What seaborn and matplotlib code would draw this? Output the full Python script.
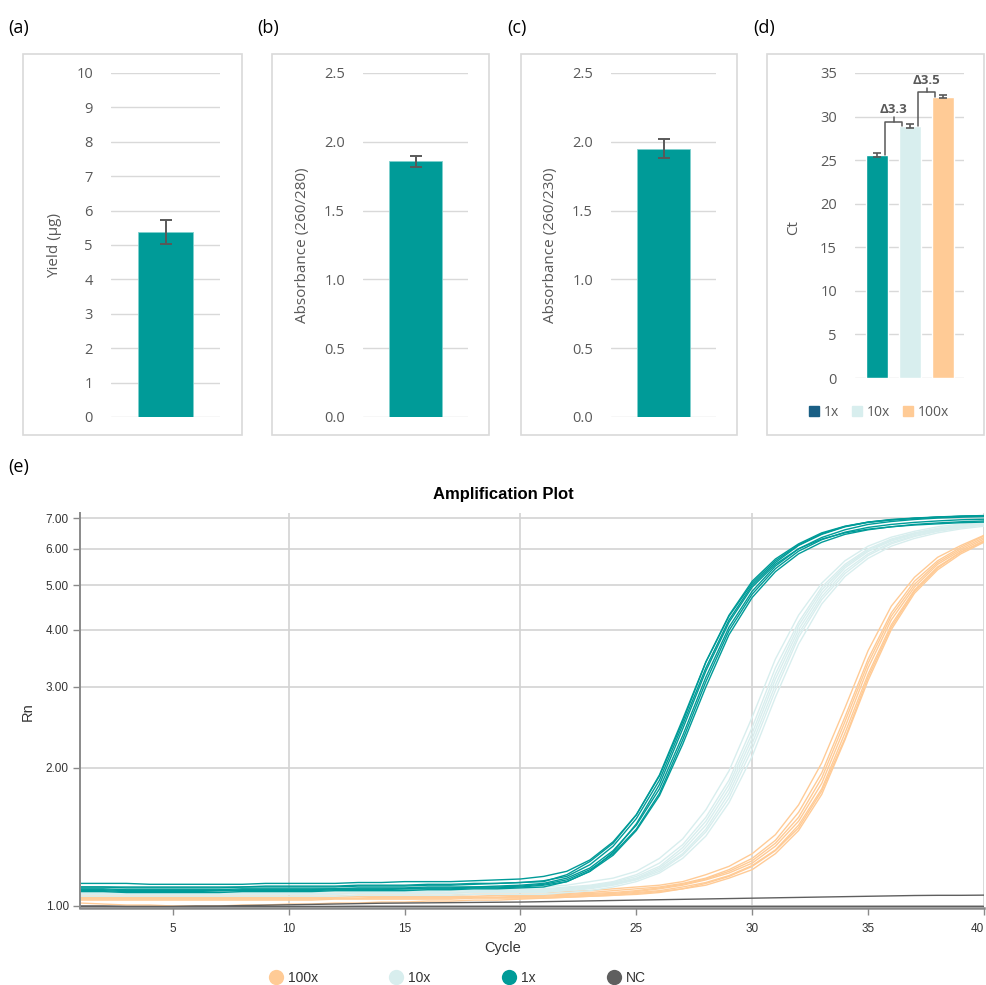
import numpy as np
import pandas as pd
import matplotlib
matplotlib.use('Agg')
import matplotlib.pyplot as plt
import seaborn as sns
from matplotlib.patches import Rectangle, Patch
from matplotlib.lines import Line2D
from matplotlib.ticker import FixedLocator, NullLocator

sns.set_theme(style='white')
plt.rcParams['font.family'] = ['Open Sans', 'DejaVu Sans']

# --- bar panels (a)-(d) ---
yield_mean, yield_err = 5.37, 0.35
a280_mean, a280_err = 1.86, 0.04
a230_mean, a230_err = 1.95, 0.07
dilutions = ['1x', '10x', '100x']
ct_mean = [25.6, 28.9, 32.3]
ct_err = [0.2, 0.2, 0.2]
delta_labels = ['\u03943.3', '\u03943.5']

# --- amplification plot (e) ---
cycles = list(range(1, 41))
rn_1x_a = [1.12, 1.12, 1.12, 1.115, 1.115, 1.115, 1.115, 1.115, 1.12, 1.12, 1.12, 1.12, 1.125, 1.125, 1.13, 1.13, 1.13, 1.135, 1.14, 1.145,
           1.16, 1.19, 1.26, 1.38, 1.58, 1.92, 2.52, 3.40, 4.30, 5.10, 5.70, 6.15, 6.50, 6.72, 6.86, 6.94, 6.99, 7.03, 7.06, 7.08]
rn_1x_b = [1.10, 1.10, 1.095, 1.095, 1.095, 1.095, 1.095, 1.10, 1.10, 1.10, 1.10, 1.10, 1.105, 1.105, 1.105, 1.11, 1.11, 1.115, 1.12, 1.125,
           1.135, 1.16, 1.23, 1.35, 1.55, 1.88, 2.48, 3.30, 4.20, 5.00, 5.60, 6.10, 6.45, 6.70, 6.85, 6.93, 6.99, 7.03, 7.06, 7.08]
rn_1x_c = [1.09, 1.09, 1.085, 1.085, 1.085, 1.085, 1.085, 1.09, 1.09, 1.09, 1.09, 1.09, 1.095, 1.095, 1.095, 1.10, 1.10, 1.10, 1.105, 1.11,
           1.12, 1.15, 1.21, 1.32, 1.50, 1.80, 2.35, 3.15, 4.05, 4.85, 5.50, 6.00, 6.35, 6.60, 6.78, 6.88, 6.95, 7.00, 7.03, 7.05]
rn_1x_d = [1.08, 1.08, 1.075, 1.075, 1.075, 1.075, 1.08, 1.08, 1.08, 1.08, 1.08, 1.085, 1.085, 1.085, 1.09, 1.09, 1.09, 1.095, 1.095, 1.10,
           1.11, 1.13, 1.19, 1.29, 1.46, 1.74, 2.25, 3.00, 3.90, 4.70, 5.35, 5.85, 6.20, 6.45, 6.60, 6.70, 6.78, 6.83, 6.87, 6.90]
rn_1x_e = [1.075, 1.075, 1.07, 1.07, 1.07, 1.07, 1.07, 1.075, 1.075, 1.075, 1.075, 1.08, 1.08, 1.08, 1.08, 1.085, 1.085, 1.09, 1.09, 1.095,
           1.10, 1.13, 1.19, 1.31, 1.51, 1.84, 2.43, 3.25, 4.15, 4.95, 5.55, 6.00, 6.30, 6.50, 6.62, 6.70, 6.76, 6.80, 6.84, 6.86]
rn_1x_f = [1.10, 1.10, 1.10, 1.10, 1.10, 1.10, 1.10, 1.10, 1.105, 1.105, 1.105, 1.105, 1.11, 1.11, 1.11, 1.115, 1.115, 1.12, 1.12, 1.125,
           1.13, 1.17, 1.25, 1.37, 1.58, 1.93, 2.55, 3.40, 4.28, 5.05, 5.65, 6.12, 6.47, 6.71, 6.86, 6.95, 7.00, 7.04, 7.07, 7.09]
rn_1x_g = [1.085, 1.085, 1.08, 1.08, 1.08, 1.08, 1.08, 1.085, 1.085, 1.085, 1.085, 1.09, 1.09, 1.09, 1.09, 1.095, 1.095, 1.10, 1.10, 1.105,
           1.115, 1.14, 1.20, 1.30, 1.47, 1.76, 2.30, 3.08, 3.98, 4.78, 5.43, 5.93, 6.28, 6.52, 6.68, 6.78, 6.85, 6.90, 6.94, 6.96]

rn_10x_a = [1.08, 1.08, 1.08, 1.08, 1.08, 1.08, 1.08, 1.08, 1.08, 1.08, 1.08, 1.08, 1.08, 1.085, 1.085, 1.085, 1.085, 1.09, 1.09, 1.09,
            1.09, 1.10, 1.11, 1.13, 1.17, 1.24, 1.36, 1.56, 1.88, 2.45, 3.30, 4.15, 4.95, 5.55, 6.00, 6.30, 6.50, 6.65, 6.76, 6.85]
rn_10x_b = [1.07, 1.07, 1.07, 1.07, 1.07, 1.07, 1.07, 1.07, 1.07, 1.07, 1.07, 1.075, 1.075, 1.075, 1.075, 1.075, 1.08, 1.08, 1.08, 1.08,
            1.08, 1.09, 1.10, 1.12, 1.15, 1.21, 1.32, 1.50, 1.80, 2.32, 3.12, 4.00, 4.80, 5.45, 5.92, 6.24, 6.45, 6.60, 6.72, 6.80]
rn_10x_c = [1.06, 1.06, 1.06, 1.06, 1.06, 1.06, 1.06, 1.06, 1.06, 1.06, 1.06, 1.06, 1.065, 1.065, 1.065, 1.065, 1.065, 1.07, 1.07, 1.07,
            1.07, 1.08, 1.09, 1.11, 1.14, 1.19, 1.29, 1.45, 1.72, 2.20, 2.95, 3.85, 4.65, 5.30, 5.80, 6.15, 6.38, 6.55, 6.67, 6.76]
rn_10x_d = [1.09, 1.09, 1.09, 1.09, 1.09, 1.09, 1.09, 1.09, 1.09, 1.09, 1.09, 1.09, 1.095, 1.095, 1.095, 1.095, 1.095, 1.10, 1.10, 1.10,
            1.10, 1.11, 1.13, 1.15, 1.19, 1.27, 1.40, 1.62, 1.97, 2.58, 3.45, 4.30, 5.05, 5.65, 6.08, 6.36, 6.55, 6.70, 6.80, 6.88]
rn_10x_e = [1.05, 1.05, 1.05, 1.05, 1.05, 1.05, 1.05, 1.05, 1.05, 1.05, 1.05, 1.05, 1.055, 1.055, 1.055, 1.055, 1.055, 1.06, 1.06, 1.06,
            1.06, 1.07, 1.08, 1.10, 1.13, 1.18, 1.27, 1.42, 1.68, 2.12, 2.85, 3.72, 4.55, 5.22, 5.72, 6.08, 6.32, 6.50, 6.63, 6.72]
rn_10x_f = [1.075, 1.075, 1.075, 1.075, 1.075, 1.075, 1.075, 1.075, 1.075, 1.075, 1.075, 1.075, 1.08, 1.08, 1.08, 1.08, 1.08, 1.085, 1.085, 1.085,
            1.085, 1.095, 1.105, 1.125, 1.16, 1.22, 1.34, 1.53, 1.84, 2.38, 3.20, 4.08, 4.88, 5.50, 5.96, 6.27, 6.48, 6.62, 6.74, 6.82]
rn_10x_g = [1.065, 1.065, 1.065, 1.065, 1.065, 1.065, 1.065, 1.065, 1.065, 1.065, 1.065, 1.065, 1.07, 1.07, 1.07, 1.07, 1.07, 1.075, 1.075, 1.075,
            1.075, 1.085, 1.095, 1.115, 1.145, 1.20, 1.30, 1.47, 1.76, 2.26, 3.03, 3.92, 4.72, 5.37, 5.85, 6.19, 6.41, 6.57, 6.69, 6.78]

rn_100x_a = [1.05, 1.05, 1.05, 1.05, 1.05, 1.05, 1.05, 1.05, 1.05, 1.05, 1.05, 1.05, 1.055, 1.055, 1.055, 1.055, 1.055, 1.06, 1.06, 1.06,
             1.06, 1.065, 1.07, 1.08, 1.09, 1.10, 1.12, 1.15, 1.20, 1.27, 1.39, 1.60, 1.95, 2.58, 3.45, 4.35, 5.10, 5.65, 6.05, 6.40]
rn_100x_b = [1.04, 1.04, 1.04, 1.04, 1.04, 1.04, 1.04, 1.04, 1.04, 1.04, 1.04, 1.04, 1.04, 1.045, 1.045, 1.045, 1.045, 1.045, 1.045, 1.05,
             1.05, 1.055, 1.06, 1.065, 1.075, 1.09, 1.11, 1.14, 1.18, 1.24, 1.35, 1.53, 1.85, 2.45, 3.30, 4.20, 4.95, 5.55, 5.95, 6.30]
rn_100x_c = [1.03, 1.03, 1.03, 1.03, 1.03, 1.03, 1.03, 1.03, 1.03, 1.03, 1.03, 1.035, 1.035, 1.035, 1.035, 1.035, 1.035, 1.04, 1.04, 1.04,
             1.04, 1.045, 1.05, 1.055, 1.06, 1.07, 1.09, 1.11, 1.15, 1.20, 1.30, 1.46, 1.75, 2.30, 3.10, 4.00, 4.80, 5.40, 5.85, 6.20]
rn_100x_d = [1.06, 1.06, 1.06, 1.06, 1.06, 1.06, 1.06, 1.06, 1.06, 1.06, 1.06, 1.065, 1.065, 1.065, 1.065, 1.065, 1.07, 1.07, 1.07, 1.07,
             1.07, 1.075, 1.08, 1.09, 1.10, 1.11, 1.13, 1.17, 1.22, 1.30, 1.43, 1.66, 2.05, 2.70, 3.60, 4.50, 5.20, 5.75, 6.10, 6.42]
rn_100x_e = [1.015, 1.01, 1.005, 1.005, 1.00, 1.00, 1.00, 1.005, 1.005, 1.01, 1.01, 1.015, 1.015, 1.02, 1.02, 1.025, 1.025, 1.03, 1.03, 1.035,
             1.04, 1.045, 1.05, 1.055, 1.065, 1.075, 1.09, 1.12, 1.16, 1.22, 1.32, 1.48, 1.78, 2.32, 3.15, 4.05, 4.85, 5.45, 5.90, 6.22]
rn_100x_f = [1.045, 1.045, 1.045, 1.045, 1.045, 1.045, 1.045, 1.045, 1.045, 1.045, 1.045, 1.045, 1.05, 1.05, 1.05, 1.05, 1.05, 1.05, 1.055, 1.055,
             1.055, 1.06, 1.065, 1.07, 1.08, 1.095, 1.115, 1.145, 1.19, 1.255, 1.37, 1.56, 1.90, 2.52, 3.38, 4.28, 5.02, 5.60, 6.00, 6.35]
rn_100x_g = [1.035, 1.035, 1.035, 1.035, 1.035, 1.035, 1.035, 1.035, 1.035, 1.035, 1.035, 1.04, 1.04, 1.04, 1.04, 1.04, 1.04, 1.045, 1.045, 1.045,
             1.045, 1.05, 1.055, 1.06, 1.07, 1.08, 1.10, 1.125, 1.165, 1.225, 1.325, 1.50, 1.80, 2.38, 3.20, 4.10, 4.88, 5.48, 5.90, 6.25]

rn_nc_a = [1.00, 1.00, 0.998, 0.998, 0.998, 1.00, 1.00, 1.002, 1.004, 1.006, 1.008, 1.01, 1.012, 1.014, 1.015, 1.016, 1.017, 1.018, 1.019, 1.02,
           1.022, 1.024, 1.026, 1.028, 1.03, 1.032, 1.034, 1.036, 1.038, 1.04, 1.042, 1.044, 1.046, 1.048, 1.05, 1.052, 1.054, 1.055, 1.055, 1.056]
rn_nc_b = [0.997, 0.997, 0.996, 0.996, 0.996, 0.996, 0.997, 0.997, 0.997, 0.997, 0.997, 0.997, 0.998, 0.998, 0.998, 0.998, 0.998, 0.998, 0.998, 0.998,
           0.998, 0.998, 0.998, 0.998, 0.998, 0.998, 0.998, 0.998, 0.998, 0.998, 0.998, 0.998, 0.998, 0.998, 0.998, 0.998, 0.998, 0.998, 0.998, 0.998]

groups = ['100x', '10x', '1x', 'NC']
replicates = {
    '100x': [rn_100x_a, rn_100x_b, rn_100x_c, rn_100x_d, rn_100x_e, rn_100x_f, rn_100x_g],
    '10x': [rn_10x_a, rn_10x_b, rn_10x_c, rn_10x_d, rn_10x_e, rn_10x_f, rn_10x_g],
    '1x': [rn_1x_a, rn_1x_b, rn_1x_c, rn_1x_d, rn_1x_e, rn_1x_f, rn_1x_g],
    'NC': [rn_nc_a, rn_nc_b],
}

TEAL = '#009B98'
CYAN = '#D8EEEE'
PEACH = '#FFCB96'
NAVY = '#1A5F85'
NCGRAY = '#5F5F5F'
TXT = '#595959'
GRID = '#D9D9D9'
PAL = {'1x': TEAL, '10x': CYAN, '100x': PEACH, 'NC': NCGRAY}

W, H = 986, 985
fig = plt.figure(figsize=(W / 100, H / 100), dpi=100)
fig.patch.set_facecolor('white')


def fig_rect(x0, y0, x1, y1):
    # pixel box (top-left origin) -> figure fraction
    return [x0 / W, 1 - y1 / H, (x1 - x0) / W, (y1 - y0) / H]


def panel_box(x0, x1, tag, tag_x):
    fig.add_artist(Rectangle((x0 / W, 1 - 435 / H), (x1 - x0) / W, (435 - 54) / H,
                             transform=fig.transFigure, fill=False, ec=GRID, lw=1.2))
    fig.text(tag_x / W, 1 - 28 / H, tag, fontsize=13, color='black', va='center', ha='left')


def style_bar_axis(ax, ticks, fmt, ylabel, lab_x, lab_y):
    ax.set_yticks(ticks)
    ax.set_yticklabels([fmt.format(t) for t in ticks])
    ax.tick_params(axis='y', length=0, pad=13, labelsize=10.5, labelcolor=TXT)
    ax.set_xticks([])
    ax.set_xlabel('')
    ax.set_ylabel(ylabel, fontsize=11, color=TXT)
    ax.yaxis.set_label_coords(lab_x, lab_y)
    for s in ax.spines.values():
        s.set_visible(False)
    ax.yaxis.grid(True, color=GRID, lw=1)
    ax.set_axisbelow(True)
    ax.set_facecolor('none')


def single_bar(rect, value, err, ylim, ticks, fmt, ylabel, lab_x):
    ax = fig.add_axes(rect)
    df = pd.DataFrame({'sample': ['s'], 'value': [value]})
    sns.barplot(data=df, x='sample', y='value', color=TEAL, saturation=1, width=0.505,
                errorbar=None, ax=ax, edgecolor='#7FD0CE', linewidth=0.6)
    ax.errorbar([0], [value], yerr=[err], fmt='none', ecolor=TXT, elinewidth=1.4,
                capsize=4, capthick=1.4, zorder=5)
    ax.set_xlim(-0.5, 0.5)
    ax.set_ylim(*ylim)
    style_bar_axis(ax, ticks, fmt, ylabel, lab_x, 0.5)
    return ax


# (a)
panel_box(23, 242, '(a)', 8)
single_bar(fig_rect(111, 73, 220, 417), yield_mean, yield_err, (0, 10), list(range(0, 11)),
           '{:.0f}', 'Yield (\u00b5g)', -0.45)
# (b)
panel_box(272, 489, '(b)', 257)
single_bar(fig_rect(363, 73, 468, 417), a280_mean, a280_err, (0, 2.5), [0, 0.5, 1.0, 1.5, 2.0, 2.5],
           '{:.1f}', 'Absorbance (260/280)', -0.505)
# (c)
panel_box(521, 737, '(c)', 507)
single_bar(fig_rect(611, 73, 716, 417), a230_mean, a230_err, (0, 2.5), [0, 0.5, 1.0, 1.5, 2.0, 2.5],
           '{:.1f}', 'Absorbance (260/230)', -0.505)

# (d)
panel_box(767, 984, '(d)', 753)
axd = fig.add_axes(fig_rect(855, 73, 964, 378))
ct_df = pd.DataFrame({'dilution': dilutions, 'ct': ct_mean})
sns.barplot(data=ct_df, x='dilution', y='ct', hue='dilution', palette=[TEAL, CYAN, PEACH],
            saturation=1, width=0.66, errorbar=None, legend=False, ax=axd)
axd.errorbar(range(3), ct_mean, yerr=ct_err, fmt='none', ecolor=TXT, elinewidth=1.2,
             capsize=3, capthick=1.2, zorder=5)
axd.set_xlim(-0.67, 2.64)
axd.set_ylim(0, 35)
style_bar_axis(axd, list(range(0, 36, 5)), '{:.0f}', 'Ct', -0.49, 0.495)
for i in range(2):
    lo, hi = ct_mean[i], ct_mean[i + 1]
    level = hi + 0.48
    xl, xr = i + 0.25, i + 0.76
    axd.plot([xl, xl, xr, xr], [lo, level, level, hi], color=TXT, lw=1.1, zorder=6)
    xm = (xl + xr) / 2
    axd.plot([xm, xm], [level, level + 0.55], color=TXT, lw=1.1, zorder=6)
    axd.text(xm, level + 1.4, delta_labels[i], ha='center', va='center', fontsize=9.5,
             fontweight='bold', color=TXT)
leg_d = axd.legend(handles=[Patch(color=c) for c in [NAVY, CYAN, PEACH]], labels=dilutions,
                   loc='center', bbox_to_anchor=(0.22, -0.112), ncol=3, frameon=False,
                   fontsize=10, handlelength=0.75, handleheight=0.75, handletextpad=0.35,
                   columnspacing=0.9, labelcolor=TXT)

# (e)
fig.text(8 / W, 1 - 467 / H, '(e)', fontsize=13, color='black', va='center', ha='left')
rows = []
for g in groups:
    for k, rep in enumerate(replicates[g]):
        for c, v in zip(cycles, rep):
            rows.append({'cycle': c, 'rn': v, 'group': g, 'well': f'{g}_{k}'})
amp = pd.DataFrame(rows)

axe = fig.add_axes(fig_rect(80, 513, 984, 908))
sns.lineplot(data=amp, x='cycle', y='rn', hue='group', hue_order=groups, units='well',
             estimator=None, palette=PAL, lw=1.0, legend=False, ax=axe)
axe.set_yscale('log')
axe.set_xlim(1, 40)
axe.set_ylim(0.99, 7.18)
yt = [1, 2, 3, 4, 5, 6, 7]
axe.yaxis.set_major_locator(FixedLocator(yt))
axe.yaxis.set_minor_locator(NullLocator())
axe.set_yticklabels([f'{v:.2f}' for v in yt])
xt = list(range(5, 41, 5))
axe.set_xticks(xt)
axe.set_xticklabels([str(v) for v in xt])
axe.grid(False)
for v in yt:
    axe.axhline(v, color='#D3D3D3', lw=1.2, zorder=0)
for v in (10, 20, 30, 40):
    axe.axvline(v, color='#D3D3D3', lw=1.2, zorder=0)
for side in ('top', 'right'):
    axe.spines[side].set_visible(False)
axe.spines['left'].set_color('#8A8A8A')
axe.spines['left'].set_linewidth(1.4)
axe.spines['bottom'].set_color('#8A8A8A')
axe.spines['bottom'].set_linewidth(1.8)
axe.tick_params(axis='both', which='major', direction='out', length=5, width=1,
                color='#8A8A8A', labelsize=8.5, labelcolor='#333333', pad=3,
                bottom=True, left=True)
axe.tick_params(axis='x', pad=6)
for lab in axe.get_xticklabels() + axe.get_yticklabels():
    lab.set_family(['Liberation Sans', 'DejaVu Sans'])
axe.get_xticklabels()[-1].set_horizontalalignment('right')
axe.set_xlabel('')
axe.set_ylabel('')
axe.set_facecolor('white')

sans = ['Liberation Sans', 'DejaVu Sans']
fig.text(503 / W, 1 - 494 / H, 'Amplification Plot', ha='center', va='center',
         fontsize=12, fontweight='bold', family=sans, color='black')
fig.text(503 / W, 1 - 948 / H, 'Cycle', ha='center', va='center', fontsize=10.5,
         family=sans, color='#333333')
fig.text(28 / W, 1 - 712 / H, 'Rn', ha='center', va='center', fontsize=10.5,
         family=sans, color='#333333', rotation=90)

handles = [Line2D([], [], ls='none', marker='o', markersize=11, color=PAL[g], mec='none')
           for g in groups]
fig.legend(handles=handles, labels=groups, loc='center', bbox_to_anchor=(458 / W, 1 - 978 / H),
           ncol=4, frameon=False, handlelength=0.8, handletextpad=0.5, columnspacing=5.2,
           prop={'family': sans, 'size': 10}, labelcolor='#333333')

fig.savefig('out.png', dpi=100, facecolor='white')
